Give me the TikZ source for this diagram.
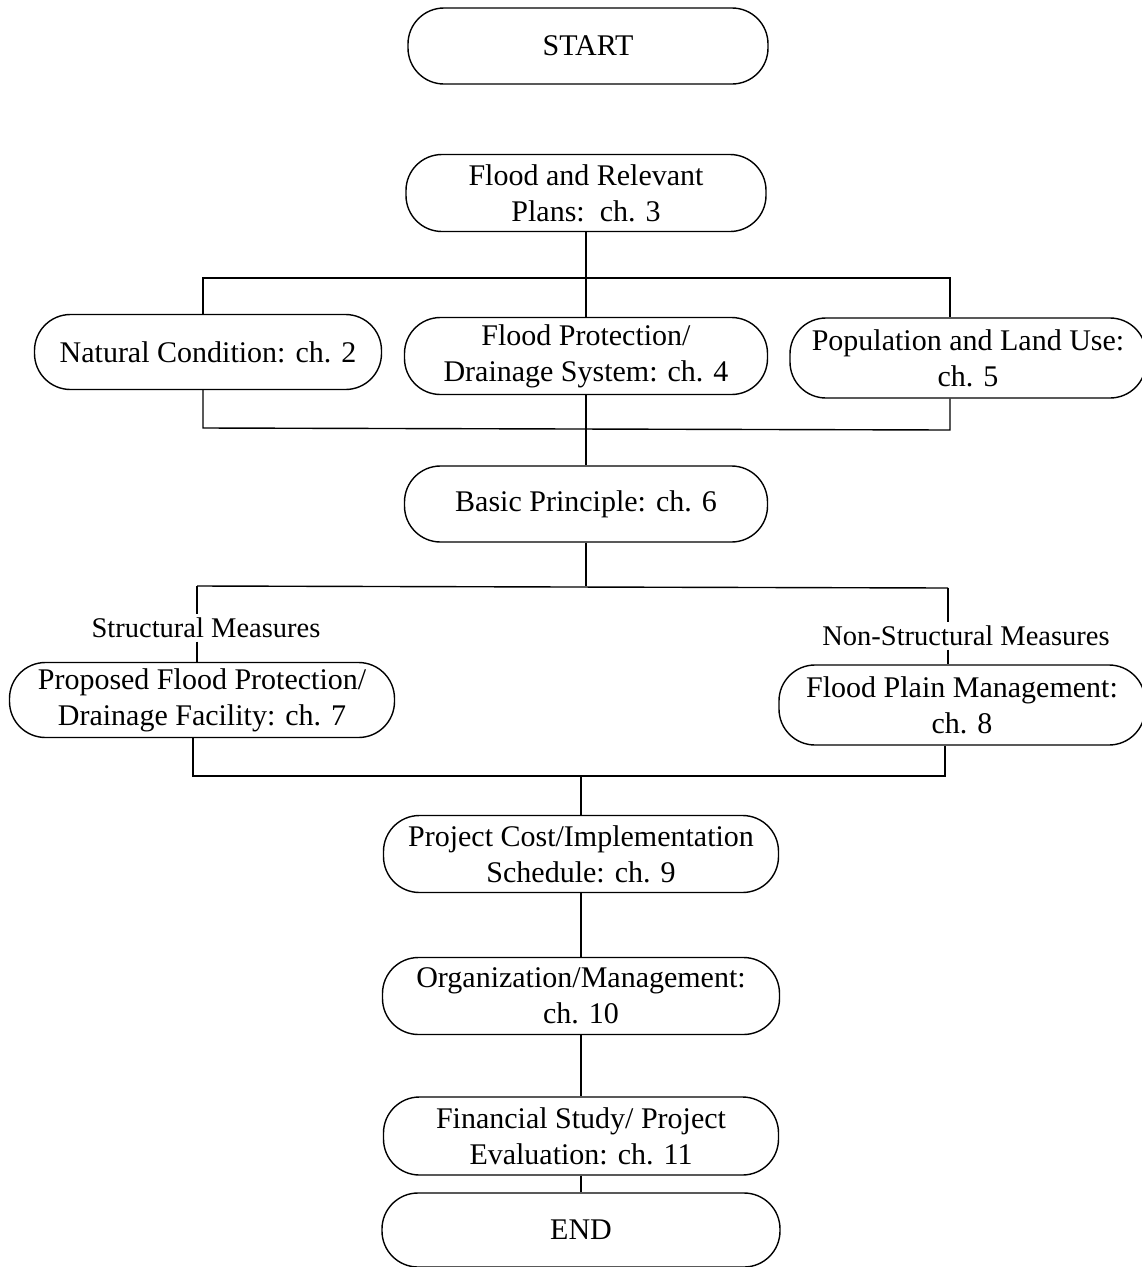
\documentclass[tikz,border=0pt]{standalone}
\usepackage{fontspec}
\setmainfont{Liberation Serif}
\begin{document}
\begin{tikzpicture}[x=1pt,y=-1pt,
  line width=1.4pt,
  term/.style={draw, rounded corners=36pt, align=center, inner sep=0pt,
    font=\fontsize{30}{36}\selectfont},
  lbl/.style={inner sep=3pt, font=\fontsize{28.5}{32}\selectfont}]
\useasboundingbox (0,0) rectangle (1142,1267);
\fill[white] (0,0) rectangle (1142,1267);

\node[term, minimum width=360pt, minimum height=76pt] (start) at (588,46) {START};
\node[term, minimum width=360pt, minimum height=77pt] (flood) at (586,193) {Flood and Relevant\\Plans:\ \ ch. 3};
\node[term, minimum width=347pt, minimum height=75pt] (nat) at (208,352) {Natural Condition: ch. 2};
\node[term, minimum width=363pt, minimum height=77pt] (fpd) at (586,356) {Flood Protection/\\Drainage System: ch. 4};
\node[term, minimum width=356pt, minimum height=80pt] (pop) at (968,358) {Population and Land Use:\\ch. 5};
\node[term, minimum width=363pt, minimum height=76pt] (basic) at (586,504) {Basic Principle: ch. 6};
\node[term, minimum width=385pt, minimum height=75pt] (prop) at (202,700) {Proposed Flood Protection/\\Drainage Facility: ch. 7};
\node[term, minimum width=366pt, minimum height=80pt] (fpm) at (962,705) {Flood Plain Management:\\ch. 8};
\node[term, minimum width=395pt, minimum height=77pt] (cost) at (581,854) {Project Cost/Implementation\\Schedule: ch. 9};
\node[term, minimum width=397pt, minimum height=77pt] (org) at (581,996) {Organization/Management:\\ch. 10};
\node[term, minimum width=395pt, minimum height=78pt] (fin) at (581,1136) {Financial Study/ Project\\Evaluation: ch. 11};
\node[term, minimum width=398pt, minimum height=74pt] (end) at (581,1230) {END};

\node[lbl] (sm) at (206,628) {Structural Measures};
\node[lbl] (nsm) at (966,636) {Non-Structural Measures};

% coordinates for bracket lines
\coordinate (a1) at (203,278);
\coordinate (a2) at (950,278);
\coordinate (b1) at (203,428);
\coordinate (b2) at (950,430);
\coordinate (c1) at (197,586);
\coordinate (c2) at (948,588);
\coordinate (d1) at (193,776);
\coordinate (d2) at (945,776);

% flood -> three
\draw (flood.south) -- (fpd.north);
\draw (nat.north -| a1) -- (a1) -- (a2) -- (pop.north -| a2);
% three -> basic
\draw (nat.south -| b1) -- (b1) -- (b2) -- (pop.south -| b2);
\draw (fpd.south) -- (basic.north);
% basic -> measures
\draw (basic.south) -- (basic.south |- c1);
\draw (c1) -- (c2);
\draw (c1) -- (sm.north -| c1);
\draw (sm.south -| c1) -- (prop.north -| c1);
\draw (c2) -- (nsm.north -| c2);
\draw (nsm.south -| c2) -- (fpm.north -| c2);
% measures -> cost
\draw (prop.south -| d1) -- (d1) -- (d2) -- (fpm.south -| d2);
\draw (cost.north |- d1) -- (cost.north);
% chain
\draw (cost.south) -- (org.north);
\draw (org.south) -- (fin.north);
\draw (fin.south) -- (end.north);
\end{tikzpicture}
\end{document}
